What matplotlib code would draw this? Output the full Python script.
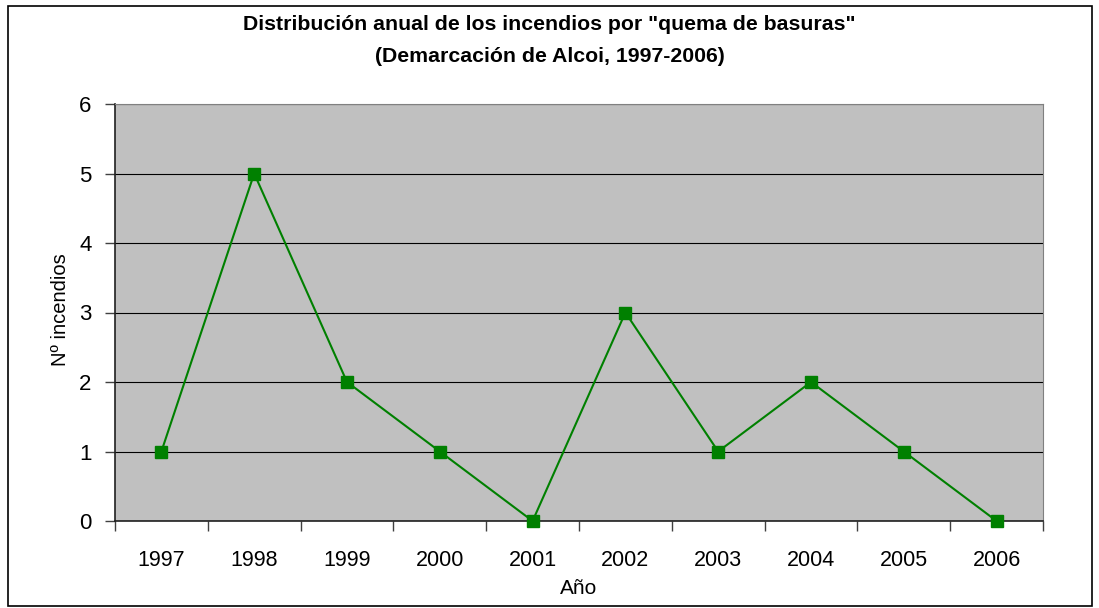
import matplotlib
matplotlib.use("Agg")
import matplotlib.pyplot as plt
from matplotlib.patches import Rectangle

years = ["1997", "1998", "1999", "2000", "2001", "2002", "2003", "2004", "2005", "2006"]
incendios = [1, 5, 2, 1, 0, 3, 1, 2, 1, 0]

plt.rcParams['font.family'] = ['Liberation Sans', 'DejaVu Sans']

W, H = 1099, 608
fig = plt.figure(figsize=(W / 100, H / 100), dpi=100)

# outer chart border
fig.patches.append(Rectangle((8 / W, 1 - 606 / H), 1084 / W, 600 / H,
                             transform=fig.transFigure, fill=False,
                             edgecolor='black', linewidth=1.2))

ax = fig.add_axes([115 / W, 1 - 521 / H, 928 / W, 417 / H])
ax.set_facecolor('#C0C0C0')

x = list(range(len(years)))
ax.plot(x, incendios, color='#008000', linewidth=1.5, marker='s',
        markersize=8, markerfacecolor='#008000', markeredgecolor='#008000',
        zorder=3, clip_on=False)

ax.set_xlim(-0.5, len(years) - 0.5)
ax.set_ylim(0, 6)
ax.set_yticks(range(7))
ax.yaxis.grid(True, color='black', linewidth=0.8)
ax.set_axisbelow(True)

# category ticks between the years, labels centered
ax.set_xticks([i - 0.5 for i in range(len(years) + 1)])
ax.set_xticklabels([])
ax.set_xticks(x, minor=True)
ax.set_xticklabels(years, minor=True)
ax.tick_params(axis='x', which='minor', length=0, pad=21, labelsize=15.5)
ax.tick_params(axis='x', which='major', length=7, width=1, color='#404040', direction='out')
ax.tick_params(axis='y', length=7, width=1, color='#404040', direction='out', labelsize=16, pad=10)

for s in ['top', 'right']:
    ax.spines[s].set_color('#808080')
for s in ['left', 'bottom']:
    ax.spines[s].set_color('#202020')
    ax.spines[s].set_linewidth(1.2)

fig.text(0.5, 1 - 25 / H, 'Distribución anual de los incendios por "quema de basuras"',
         ha='center', va='center', fontsize=15.3, fontweight='bold')
fig.text(0.5, 1 - 56 / H, '(Demarcación de Alcoi, 1997-2006)',
         ha='center', va='center', fontsize=15.3, fontweight='bold')
fig.text(579 / W, 1 - 589 / H, 'Año', ha='center', va='center', fontsize=15)
fig.text(60 / W, 1 - 310 / H, 'Nº incendios', ha='center', va='center',
         fontsize=14.5, rotation=90)

fig.savefig('out.png', dpi=100)
